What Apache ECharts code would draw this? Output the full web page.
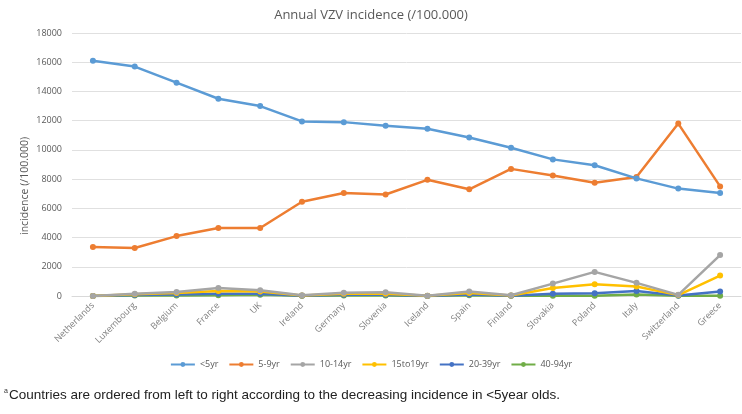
<!DOCTYPE html>
<html><head><meta charset="utf-8">
<script src="https://cdn.jsdelivr.net/npm/echarts@6/dist/echarts.min.js"></script>
<style>html,body{margin:0;padding:0;background:#fff}#c{width:742px;height:414px}</style>
</head><body><div id="c"></div>
<script>
const countries = ["Netherlands","Luxembourg","Belgium","France","UK","Ireland","Germany","Slovenia","Iceland","Spain","Finland","Slovakia","Poland","Italy","Switzerland","Greece"];
const under5 = [16100,15700,14600,13500,13000,11950,11900,11650,11450,10850,10150,9350,8950,8050,7350,7050];
const age5to9 = [3350,3280,4100,4650,4650,6450,7050,6950,7950,7300,8700,8250,7750,8150,11800,7500];
const age10to14 = [0,150,280,550,400,50,220,250,20,300,50,850,1650,900,80,2800];
const age15to19 = [0,120,200,350,300,40,150,150,10,200,30,550,800,650,60,1400];
const age20to39 = [0,60,100,150,150,20,80,80,5,100,20,150,180,350,30,300];
const age40to94 = [0,30,40,50,80,10,40,40,0,50,10,20,20,100,20,10];
const seriesNames = ["<5yr","5-9yr","10-14yr","15to19yr","20-39yr","40-94yr"];
const seriesData = [under5, age5to9, age10to14, age15to19, age20to39, age40to94];
const colors = ["#5B9BD5","#ED7D31","#A5A5A5","#FFC000","#4472C4","#70AD47"];

const chart = echarts.init(document.getElementById('c'), null, {renderer:'canvas'});
chart.setOption({
  animation:false,
  color: colors,
  title: {
    text: "Annual VZV incidence (/100.000)",
    left: 'center', top: 4,
    textStyle: {fontFamily:'Open Sans', fontSize:13, fontWeight:'normal', color:'#595959'}
  },
  graphic: [{
    type:'text', left: 4, top: 388,
    style: {
      text: '{s|a}Countries are ordered from left to right according to the decreasing incidence in <5year olds.',
      rich: {s:{fontSize:7, verticalAlign:'top', fill:'#333', padding:[0,1,6,0]}},
      font: '13.5px "Liberation Sans", sans-serif',
      fill: '#222'
    }
  }, {
    type:'text', x: 25, y: 186, rotation: Math.PI/2,
    style: {
      text: 'incidence (/100.000)', align:'center', verticalAlign:'middle',
      font: '10.5px "Open Sans", sans-serif', fill:'#595959'
    }
  }],
  legend: {
    data: seriesNames, bottom: 40, left:'center',
    itemWidth: 24, itemHeight: 6, itemGap: 10,
    textStyle: {fontSize:9, color:'#595959', fontFamily:'Open Sans'}
  },
  grid: {left:72, right:1, top:33, bottom:118},
  xAxis: {
    type:'category', data: countries, boundaryGap:true,
    axisLine:{lineStyle:{color:'#d9d9d9'}}, axisTick:{show:false},
    axisLabel:{rotate:45, fontSize:9, color:'#7f7f7f', margin:8, interval:0, fontFamily:'Open Sans'}
  },
  yAxis: {
    type:'value', min:0, max:18000, interval:2000,
    axisLabel:{fontSize:9, color:'#595959', margin:10, fontFamily:'Open Sans', formatter: v => String(v)},
    splitLine:{lineStyle:{color:'#e0e0e0'}}
  },
  series: seriesNames.map((n,i)=>({
    name:n, type:'line', data: seriesData[i], symbol:'circle', symbolSize:6,
    lineStyle:{width:2.5}, z: 10-i
  }))
});
</script></body></html>
